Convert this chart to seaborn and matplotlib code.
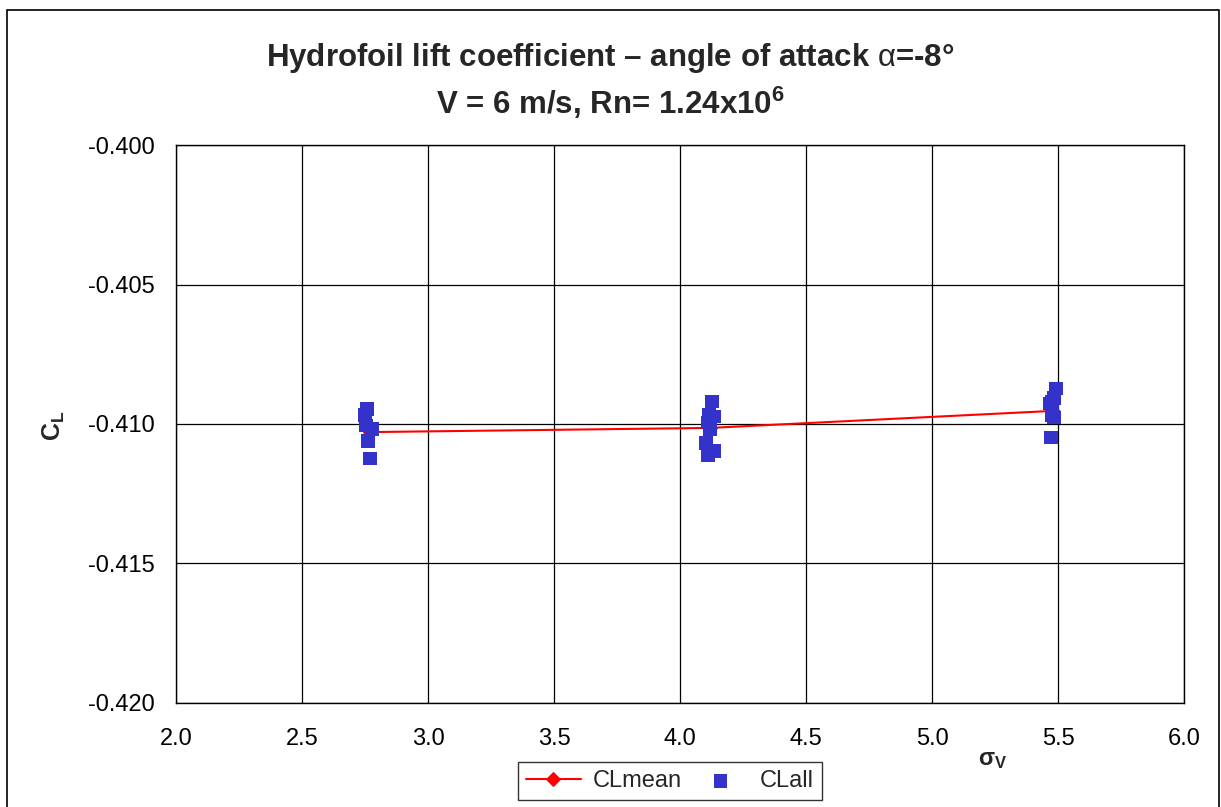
import pandas as pd
import matplotlib.pyplot as plt
import seaborn as sns
from matplotlib.patches import Rectangle

# Valores
sigma_mean = [2.77, 4.12, 5.48]
cl_mean = [-0.41029, -0.41014, -0.40953]

sigma_all = [2.758, 2.750, 2.754, 2.778, 2.762, 2.770,
             4.127, 4.115, 4.135, 4.111, 4.119, 4.103, 4.111, 4.135,
             5.492, 5.484, 5.476, 5.468, 5.476, 5.484, 5.472]
cl_all = [-0.40946, -0.40968, -0.41004, -0.41018, -0.41061, -0.41125,
          -0.40918, -0.40968, -0.40972, -0.40996, -0.41021, -0.41068, -0.41111, -0.41097,
          -0.40874, -0.40907, -0.40921, -0.40928, -0.40968, -0.40978, -0.41047]

x_ticks = [2.0, 2.5, 3.0, 3.5, 4.0, 4.5, 5.0, 5.5, 6.0]
y_ticks = [-0.420, -0.415, -0.410, -0.405, -0.400]

sns.set_style("white")
plt.rcParams['font.family'] = ['Liberation Sans', 'DejaVu Sans']
plt.rcParams['mathtext.fontset'] = 'custom'
plt.rcParams['mathtext.rm'] = 'Liberation Sans'
plt.rcParams['mathtext.bf'] = 'Liberation Sans:bold'

fig = plt.figure(figsize=(12.21, 8.07), dpi=100)
ax = fig.add_axes([0.1441, 0.1289, 0.8256, 0.6914])

df_mean = pd.DataFrame({'sigma': sigma_mean, 'CL': cl_mean})
df_all = pd.DataFrame({'sigma': sigma_all, 'CL': cl_all})

sns.lineplot(x='sigma', y='CL', data=df_mean, ax=ax, color='red', linewidth=1.5,
             marker='D', markersize=7, markeredgecolor='red', label='CLmean', zorder=3)
sns.scatterplot(x='sigma', y='CL', data=df_all, ax=ax, color='#3333CC', marker='s',
                s=90, edgecolor='none', label='CLall', zorder=4)

ax.set_xlim(2.0, 6.0)
ax.set_ylim(-0.420, -0.400)
ax.set_xticks(x_ticks)
ax.set_yticks(y_ticks)
ax.set_xticklabels([f"{v:.1f}" for v in x_ticks])
ax.set_yticklabels([f"{v:.3f}" for v in y_ticks])
ax.tick_params(axis='both', labelsize=17, direction='out', length=8, width=1, colors='black')
ax.tick_params(axis='x', pad=10)
ax.tick_params(axis='y', pad=7)
ax.grid(True, color='black', linewidth=0.9)
for s in ax.spines.values():
    s.set_color('black')
    s.set_linewidth(1)

ax.set_xlabel('')
ax.set_ylabel('')
fig.text(0.801, 0.058, r'$\mathbf{\sigma_V}$', fontsize=17, ha='left', va='center')
fig.text(0.044, 0.473, r'C$_\mathbf{L}$', fontsize=18, fontweight='bold', rotation=90,
         ha='center', va='center')

fig.text(0.5, 0.928, 'Hydrofoil lift coefficient – angle of attack $\\mathrm{\\alpha}$=-8°',
         fontsize=22.5, fontweight='bold', ha='center', va='center')
fig.text(0.5, 0.873, 'V = 6 m/s, Rn= 1.24x10$^{\\mathbf{6}}$',
         fontsize=22.5, fontweight='bold', ha='center', va='center')

leg = ax.legend(loc='upper left', bbox_to_anchor=(0.4242, 0.0558),
                bbox_transform=fig.transFigure, borderaxespad=0, ncol=2, fontsize=17,
                frameon=True, fancybox=False, edgecolor='black', handlelength=2.3,
                columnspacing=0.5, borderpad=0.35, handletextpad=0.5)
leg.get_frame().set_linewidth(1)

# Borde exterior del gráfico
fig.patches.append(Rectangle((0.006, -0.01), 0.992, 0.997, transform=fig.transFigure,
                             fill=False, edgecolor='black', linewidth=1.2))

fig.savefig('out.png', dpi=100)
